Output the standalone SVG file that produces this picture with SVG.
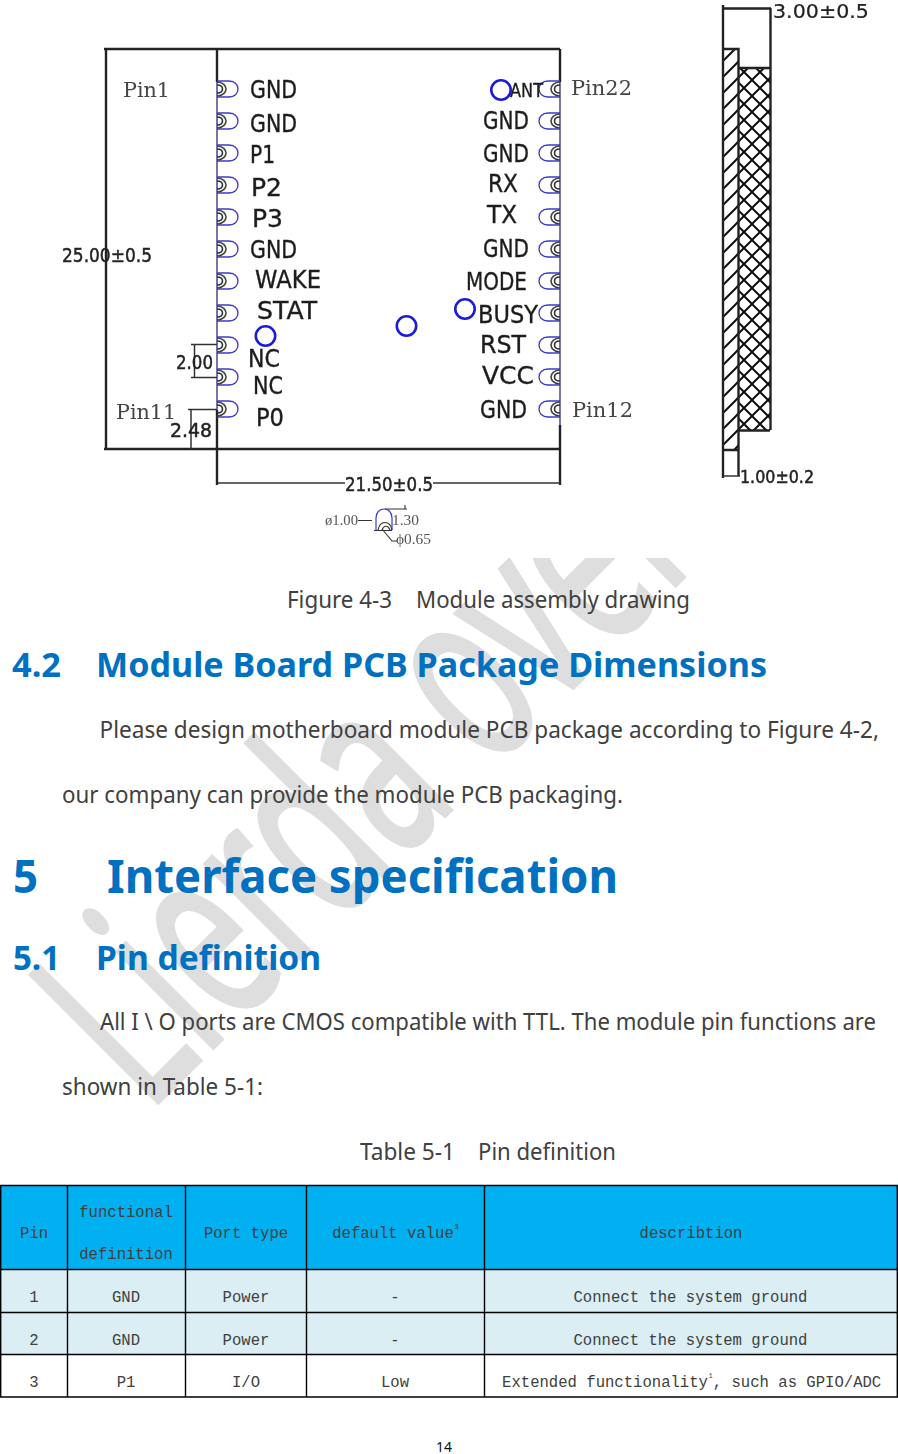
<svg xmlns="http://www.w3.org/2000/svg" width="898" height="1454" viewBox="0 0 898 1454">
<style>
text{font-family:"Noto Sans","Open Sans",sans-serif;fill:#404040}
.h{font-weight:700;fill:#0070c0}
.b{font-size:23px}
.cad{font-family:"DejaVu Sans","Liberation Sans",sans-serif;fill:#1c1c1c;font-size:24px;stroke:#1c1c1c;stroke-width:.35}
.lead{font-family:"DejaVu Serif","Liberation Serif",serif;fill:#444;font-size:21px}
.dim{font-family:"DejaVu Sans","Liberation Sans",sans-serif;fill:#222;font-size:20px;stroke:#222;stroke-width:.5}
.sm{font-family:"Liberation Serif",serif;fill:#555;font-size:14px}
.t{font-family:"Liberation Mono","DejaVu Sans Mono",monospace;font-size:15.6px;text-anchor:middle}
.k{fill:none;stroke:#222;stroke-width:2.4}
.k1{fill:none;stroke:#333;stroke-width:1.5}
.s{fill:none;stroke:#1a1ad6;stroke-width:2.6}
.g{stroke:#000;stroke-width:1.4}
</style>
<defs>
<clipPath id="wm"><rect x="0" y="558" width="898" height="896"/></clipPath>
<filter id="soft" x="0" y="0" width="100%" height="100%"><feGaussianBlur stdDeviation=".45"/></filter>
<pattern id="hatch" width="16" height="16" patternUnits="userSpaceOnUse"><path d="M-4 4L4-4M0 16L16 0M12 20L20 12" stroke="#111" stroke-width="2" fill="none"/></pattern>
<pattern id="cross" width="16" height="16" patternUnits="userSpaceOnUse"><path d="M0 16L16 0M0 0L16 16" stroke="#111" stroke-width="2" fill="none"/></pattern>
<g id="pl"><path d="M217-8H229C241-8 241 8 229 8H217" fill="none" stroke="#3a3ad0" stroke-width="1.3"/><path d="M217-7C223-7 226-3 226 0C226 3 223 7 217 7" fill="none" stroke="#444" stroke-width="1.6"/><path d="M217-4C221-4 222.500-2 222.500 0C222.500 2 221 4 217 4" fill="none" stroke="#333" stroke-width="1.6"/></g>
<g id="pr"><path d="M560-8H548C536-8 536 8 548 8H560" fill="none" stroke="#3a3ad0" stroke-width="1.3"/><path d="M560-7C554-7 551-3 551 0C551 3 554 7 560 7" fill="none" stroke="#444" stroke-width="1.6"/><path d="M560-4C556-4 554.500-2 554.500 0C554.500 2 556 4 560 4" fill="none" stroke="#333" stroke-width="1.6"/></g>
</defs>
<rect width="898" height="1454" fill="#fff"/>
<g id="watermark" clip-path="url(#wm)"><text transform="translate(158 1103) rotate(-45) scale(.6 1)" style="font-size:253px;fill:#dedede;stroke:#dedede;stroke-width:4" x="-25">Lierda over</text></g>

<g filter="url(#soft)">
<g id="board">
<path class="k" d="M104 49H560M104 449H560M106 49V449M217 49V82M217 410V485M560 49V82M560 425V485"/>
<path d="M217 82V410M560 82V425" fill="none" stroke="#55559a" stroke-width="1.6"/>
<path class="k1" d="M217 483H345M433 483H560"/>
<use href="#pl" y="89"/><use href="#pl" y="121"/><use href="#pl" y="153"/><use href="#pl" y="185"/><use href="#pl" y="217"/><use href="#pl" y="249"/><use href="#pl" y="281"/><use href="#pl" y="313"/><use href="#pl" y="345"/><use href="#pl" y="377"/><use href="#pl" y="409"/>
<use href="#pr" y="89"/><use href="#pr" y="121"/><use href="#pr" y="153"/><use href="#pr" y="185"/><use href="#pr" y="217"/><use href="#pr" y="249"/><use href="#pr" y="281"/><use href="#pr" y="313"/><use href="#pr" y="345"/><use href="#pr" y="377"/><use href="#pr" y="409"/>
<circle class="s" cx="265.500" cy="336" r="9.700"/><circle class="s" cx="501" cy="90" r="9.700"/><circle class="s" cx="465" cy="309" r="9.700"/><circle class="s" cx="406.500" cy="326" r="9.700"/>
<path class="k1" d="M191 344.500H217M191 377.500H217M194.500 344.500V377.500M188 409.500H217M191 409.500V449"/>
<text class="cad" x="250" y="98" textLength="47" lengthAdjust="spacingAndGlyphs">GND</text>
<text class="cad" x="250" y="132" textLength="47" lengthAdjust="spacingAndGlyphs">GND</text>
<text class="cad" x="250" y="163" textLength="25" lengthAdjust="spacingAndGlyphs">P1</text>
<text class="cad" x="251" y="196" textLength="31" lengthAdjust="spacingAndGlyphs">P2</text>
<text class="cad" x="252" y="227" textLength="31" lengthAdjust="spacingAndGlyphs">P3</text>
<text class="cad" x="250" y="258" textLength="47" lengthAdjust="spacingAndGlyphs">GND</text>
<text class="cad" x="255" y="288" textLength="66" lengthAdjust="spacingAndGlyphs">WAKE</text>
<text class="cad" x="257" y="319" textLength="60" lengthAdjust="spacingAndGlyphs">STAT</text>
<text class="cad" x="248" y="367" textLength="32" lengthAdjust="spacingAndGlyphs">NC</text>
<text class="cad" x="253" y="394" textLength="30" lengthAdjust="spacingAndGlyphs">NC</text>
<text class="cad" x="256" y="426" textLength="28" lengthAdjust="spacingAndGlyphs">P0</text>
<text class="cad" x="510" y="97" textLength="33" lengthAdjust="spacingAndGlyphs" style="font-size:19px">ANT</text>
<text class="cad" x="483" y="129" textLength="46" lengthAdjust="spacingAndGlyphs">GND</text>
<text class="cad" x="483" y="162" textLength="46" lengthAdjust="spacingAndGlyphs">GND</text>
<text class="cad" x="488" y="192" textLength="30" lengthAdjust="spacingAndGlyphs">RX</text>
<text class="cad" x="487" y="223" textLength="30" lengthAdjust="spacingAndGlyphs">TX</text>
<text class="cad" x="483" y="257" textLength="46" lengthAdjust="spacingAndGlyphs">GND</text>
<text class="cad" x="466" y="290" textLength="61" lengthAdjust="spacingAndGlyphs">MODE</text>
<text class="cad" x="478" y="323" textLength="60" lengthAdjust="spacingAndGlyphs">BUSY</text>
<text class="cad" x="480" y="353" textLength="46" lengthAdjust="spacingAndGlyphs">RST</text>
<text class="cad" x="482" y="384" textLength="52" lengthAdjust="spacingAndGlyphs">VCC</text>
<text class="cad" x="480" y="418" textLength="47" lengthAdjust="spacingAndGlyphs">GND</text>
<text class="lead" x="123" y="97" textLength="47" lengthAdjust="spacingAndGlyphs">Pin1</text>
<text class="lead" x="571" y="95" textLength="61" lengthAdjust="spacingAndGlyphs">Pin22</text>
<text class="lead" x="572" y="417" textLength="61" lengthAdjust="spacingAndGlyphs">Pin12</text>
<text class="lead" x="116" y="419" textLength="60" lengthAdjust="spacingAndGlyphs">Pin11</text>
<text class="dim" x="62" y="262" textLength="90" lengthAdjust="spacingAndGlyphs">25.00±0.5</text>
<text class="dim" x="176" y="369" textLength="37" lengthAdjust="spacingAndGlyphs">2.00</text>
<text class="dim" x="170" y="437" textLength="42" lengthAdjust="spacingAndGlyphs">2.48</text>
<text class="dim" x="345" y="491" textLength="88" lengthAdjust="spacingAndGlyphs">21.50±0.5</text>
</g>

<g id="hole-detail">
<path class="k1" style="stroke-width:1.1" d="M358 520.500H372M385 509H407M405 505V509M374 530.500H392M382 529L392 541H397"/>
<path d="M376 530V518C376 506 392 506 392 518V530" fill="none" stroke="#3a3ad0" stroke-width="1.2"/>
<path d="M378 530C380 520 390 520 392 530M382 530C384 525 388 525 390 530" fill="none" stroke="#333" stroke-width="1.2"/>
<text class="sm" x="325" y="525" textLength="33" lengthAdjust="spacingAndGlyphs">ø1.00</text>
<text class="sm" x="392" y="525" textLength="27" lengthAdjust="spacingAndGlyphs">1.30</text>
<text class="sm" x="396" y="544" textLength="35" lengthAdjust="spacingAndGlyphs" style="font-size:15px">ϕ0.65</text>
</g>

<g id="side-view">
<rect x="723" y="49" width="16" height="401" fill="url(#hatch)"/>
<rect x="739" y="68" width="31" height="362" fill="url(#cross)"/>
<path class="k" d="M723 5V478M722 8.500H771M770.500 8V430M723 49H738.500V476M739 68H770M739 430.500H770M723 450H739"/>
<path class="k1" d="M723 476H740"/>
<text class="dim" x="773" y="18" textLength="96" lengthAdjust="spacingAndGlyphs" style="font-size:19px;stroke-width:.2">3.00±0.5</text>
<text class="dim" x="740" y="483" textLength="74" lengthAdjust="spacingAndGlyphs" style="font-size:18px">1.00±0.2</text>
</g>
</g>

<g id="document-text">
<text class="b" x="287" y="608" textLength="105" lengthAdjust="spacingAndGlyphs">Figure 4-3</text>
<text class="b" x="416" y="608" textLength="274" lengthAdjust="spacingAndGlyphs">Module assembly drawing</text>
<text class="h" x="12" y="677" style="font-size:34px" textLength="49" lengthAdjust="spacingAndGlyphs">4.2</text>
<text class="h" x="96" y="677" style="font-size:34px" textLength="671" lengthAdjust="spacingAndGlyphs">Module Board PCB Package Dimensions</text>
<text class="b" x="99.500" y="738" textLength="779.500" lengthAdjust="spacingAndGlyphs">Please design motherboard module PCB package according to Figure 4-2,</text>
<text class="b" x="62" y="803" textLength="561" lengthAdjust="spacingAndGlyphs">our company can provide the module PCB packaging.</text>
<text class="h" x="13" y="893" style="font-size:47px" textLength="25" lengthAdjust="spacingAndGlyphs">5</text>
<text class="h" x="107" y="893" style="font-size:47px" textLength="511" lengthAdjust="spacingAndGlyphs">Interface specification</text>
<text class="h" x="13" y="970" style="font-size:34px" textLength="47" lengthAdjust="spacingAndGlyphs">5.1</text>
<text class="h" x="96" y="970" style="font-size:34px" textLength="225" lengthAdjust="spacingAndGlyphs">Pin definition</text>
<text class="b" x="100" y="1030" textLength="776" lengthAdjust="spacingAndGlyphs">All I \ O ports are CMOS compatible with TTL. The module pin functions are</text>
<text class="b" x="62" y="1095" textLength="201" lengthAdjust="spacingAndGlyphs">shown in Table 5-1:</text>
<text class="b" x="360" y="1160" textLength="95" lengthAdjust="spacingAndGlyphs">Table 5-1</text>
<text class="b" x="478" y="1160" textLength="138" lengthAdjust="spacingAndGlyphs">Pin definition</text>
<text x="436" y="1452" style="font-size:14px;fill:#111" textLength="16">14</text>
</g>

<g id="pin-table">
<rect x="0" y="1186" width="898" height="84" fill="#00b0f0"/>
<rect x="0" y="1270" width="898" height="85" fill="#daeef3"/>
<path class="g" fill="none" d="M0 1185.500H898M0 1269.500H898M0 1312.500H898M0 1354.500H898M0 1397H898M.7 1185V1397M67.500 1185V1397M185.500 1185V1397M306.500 1185V1397M484.500 1185V1397M897.300 1185V1397"/>
<text class="t" x="34" y="1238">Pin</text>
<text class="t" x="126" y="1217">functional</text>
<text class="t" x="126" y="1259">definition</text>
<text class="t" x="246" y="1238">Port type</text>
<text class="t" x="393" y="1238">default value</text>
<text class="t" x="456.500" y="1229" style="font-size:7px">3</text>
<text class="t" x="691" y="1238">describtion</text>
<text class="t" x="34" y="1302">1</text><text class="t" x="126" y="1302">GND</text><text class="t" x="246" y="1302">Power</text><text class="t" x="395" y="1302">-</text><text class="t" x="690.500" y="1302">Connect the system ground</text>
<text class="t" x="34" y="1345">2</text><text class="t" x="126" y="1345">GND</text><text class="t" x="246" y="1345">Power</text><text class="t" x="395" y="1345">-</text><text class="t" x="690.500" y="1345">Connect the system ground</text>
<text class="t" x="34" y="1387">3</text><text class="t" x="126" y="1387">P1</text><text class="t" x="246" y="1387">I/O</text><text class="t" x="395" y="1387">Low</text>
<text class="t" x="605" y="1387">Extended functionality</text><text class="t" x="710.500" y="1378" style="font-size:7px">1</text><text class="t" x="797" y="1387">, such as GPIO/ADC</text>
</g>
</svg>
